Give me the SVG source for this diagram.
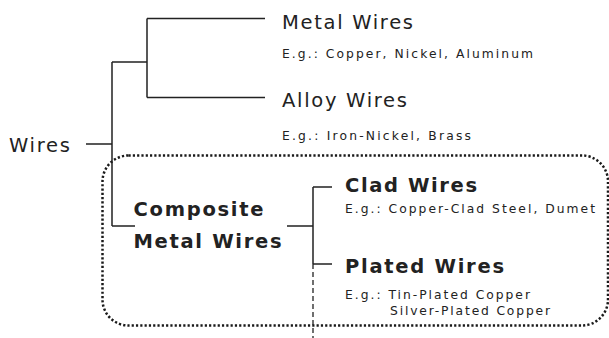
<svg xmlns="http://www.w3.org/2000/svg" width="609" height="338" viewBox="0 0 609 338">
<style>
  .t { font-family: "DejaVu Sans", Verdana, sans-serif; fill: #222; }
  .lg { font-size: 19.5px; }
  .sm { font-size: 12.3px; }
  .b { font-weight: bold; }
  .ln { fill: none; stroke: #222; stroke-width: 1.5; }
  .dash { fill: none; stroke: #222; stroke-width: 1.3; stroke-dasharray: 5 3; }
  .dot { fill: none; stroke: #1a1a1a; stroke-width: 2.5; stroke-dasharray: 2.2 2.1; }
</style>
<rect id="composite-box" class="dot" x="102.5" y="155.5" width="505.5" height="170" rx="26" ry="26"/>
<g id="connectors">
  <path class="ln" d="M86 144H112M112 62V226M112 62H147M147 18.5V97.5M147 18.5H265M147 97.5H265M112 226H135M287 226H313M313 187V264M313 187H332M313 264H332"/>
  <path class="dash" d="M313 264V338"/>
</g>
<g id="wires"><text class="t lg" x="9" y="152" textLength="61" lengthAdjust="spacing">Wires</text></g>
<g id="metal-wires">
  <text class="t lg" x="282" y="29" textLength="131" lengthAdjust="spacing">Metal Wires</text>
  <text class="t sm" x="282" y="57.5" textLength="251" lengthAdjust="spacing">E.g.: Copper, Nickel, Aluminum</text>
</g>
<g id="alloy-wires">
  <text class="t lg" x="282" y="107" textLength="125" lengthAdjust="spacing">Alloy Wires</text>
  <text class="t sm" x="282" y="139.5" textLength="189" lengthAdjust="spacing">E.g.: Iron-Nickel, Brass</text>
</g>
<g id="composite-metal-wires">
  <text class="t lg b" x="133.5" y="215.7" textLength="130" lengthAdjust="spacing">Composite</text>
  <text class="t lg b" x="133.5" y="248.3" textLength="148" lengthAdjust="spacing">Metal Wires</text>
</g>
<g id="clad-wires">
  <text class="t lg b" x="345" y="191.7" textLength="132" lengthAdjust="spacing">Clad Wires</text>
  <text class="t sm" x="345" y="213.3" textLength="250" lengthAdjust="spacing">E.g.: Copper-Clad Steel, Dumet</text>
</g>
<g id="plated-wires">
  <text class="t lg b" x="345" y="272.5" textLength="159" lengthAdjust="spacing">Plated Wires</text>
  <text class="t sm" x="345" y="299.3" textLength="185" lengthAdjust="spacing">E.g.: Tin-Plated Copper</text>
  <text class="t sm" x="390" y="315" textLength="160" lengthAdjust="spacing">Silver-Plated Copper</text>
</g>
</svg>
